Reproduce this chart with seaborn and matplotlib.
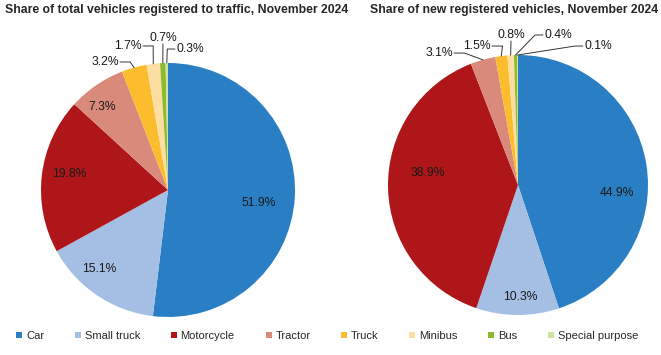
import numpy as np
import matplotlib
matplotlib.use("Agg")
import matplotlib.pyplot as plt
import seaborn as sns

sns.set_theme(style="white")
plt.rcParams['font.family'] = ['Liberation Sans', 'DejaVu Sans']

# ---- data ----
categories = ["Car", "Small truck", "Motorcycle", "Tractor", "Truck",
              "Minibus", "Bus", "Special purpose"]
total_share = [51.9, 15.1, 19.8, 7.3, 3.2, 1.7, 0.7, 0.3]
new_share = [44.9, 10.3, 38.9, 3.1, 1.5, 0.8, 0.4, 0.1]
titles = ["Share of total vehicles registered to traffic, November 2024",
          "Share of new registered vehicles, November 2024"]

# ---- styles ----
colors = ["#2A7FC4", "#A5BFE4", "#AE1619", "#D98A7B", "#FBBD2D",
          "#FDDEA2", "#8DBB2E", "#CFE3A0"]

# label positions (radius units) and leader-line attach side
left_label_pos = [(0.717, -0.102), (-0.543, -0.622), (-0.78, 0.126), (-0.52, 0.654),
                  (-0.496, 1.008), (-0.315, 1.134), (-0.040, 1.197), (0.173, 1.110)]
left_leader = [None, None, None, None, "right", "right", "bottom", "left"]
right_label_pos = [(0.762, -0.062), (0.015, -0.862), (-0.692, 0.092), (-0.608, 1.015),
                   (-0.315, 1.069), (-0.054, 1.154), (0.308, 1.154), (0.615, 1.069)]
right_leader = [None, None, None, "right", "right", "bottom", "left", "left"]

W, H = 661, 355
fig = plt.figure(figsize=(W / 100, H / 100), dpi=100)

def px_axes(cx, cy, r):
    return fig.add_axes([(cx - r) / W, (H - cy - r) / H, 2 * r / W, 2 * r / H])

ax1 = px_axes(168, 190, 127)
ax2 = px_axes(518, 185, 130)

def draw_pie(ax, values, label_pos, leaders):
    wedges, _ = ax.pie(values, colors=colors, startangle=90, counterclock=False,
                       radius=1.0, wedgeprops=dict(linewidth=0))
    ax.set_xlim(-1, 1)
    ax.set_ylim(-1, 1)
    ax.set_aspect("equal")
    ax.axis("off")
    texts = []
    for v, (lx, ly) in zip(values, label_pos):
        t = ax.text(lx, ly, f"{v:.1f}%", ha="center", va="center",
                    fontsize=8.7, color="#1a1a1a", clip_on=False)
        texts.append(t)
    return wedges, texts

w1, t1 = draw_pie(ax1, total_share, left_label_pos, left_leader)
w2, t2 = draw_pie(ax2, new_share, right_label_pos, right_leader)

fig.canvas.draw()
renderer = fig.canvas.get_renderer()

def add_leaders(ax, wedges, texts, leaders):
    inv = ax.transData.inverted()
    for w, t, side in zip(wedges, texts, leaders):
        if side is None:
            continue
        mid = np.deg2rad((w.theta1 + w.theta2) / 2)
        ex, ey = np.cos(mid), np.sin(mid)
        bb = t.get_window_extent(renderer)
        (x0, y0), (x1, y1) = inv.transform([(bb.x0, bb.y0), (bb.x1, bb.y1)])
        ly = (y0 + y1) / 2
        if side == "right":
            sx = x1 + 0.01
            pts = [(sx, ly), (sx + 0.08, ly), (ex, ey)]
        elif side == "left":
            sx = x0 - 0.01
            pts = [(sx, ly), (sx - 0.06, ly), (ex, ey)]
        else:
            pts = [((x0 + x1) / 2, y0), (ex, ey)]
        xs, ys = zip(*pts)
        ax.plot(xs, ys, color="#333333", lw=0.7, clip_on=False)

add_leaders(ax1, w1, t1, left_leader)
add_leaders(ax2, w2, t2, right_leader)

fig.text(5 / W, 1 - 10 / H, titles[0], ha="left", va="center",
         fontsize=8.8, fontweight="bold")
fig.text(370 / W, 1 - 10 / H, titles[1], ha="left", va="center",
         fontsize=8.8, fontweight="bold")

handles = [plt.Line2D([], [], marker="s", linestyle="none", markersize=5,
                      markerfacecolor=c, markeredgewidth=0) for c in colors]
fig.legend(handles, categories, loc="center left", ncol=8,
           bbox_to_anchor=(16 / W, 1 - 336 / H), frameon=False,
           fontsize=8, handlelength=0.6, handletextpad=0.3,
           columnspacing=2.75, borderpad=0, borderaxespad=0)

fig.savefig("out.png", dpi=100)
